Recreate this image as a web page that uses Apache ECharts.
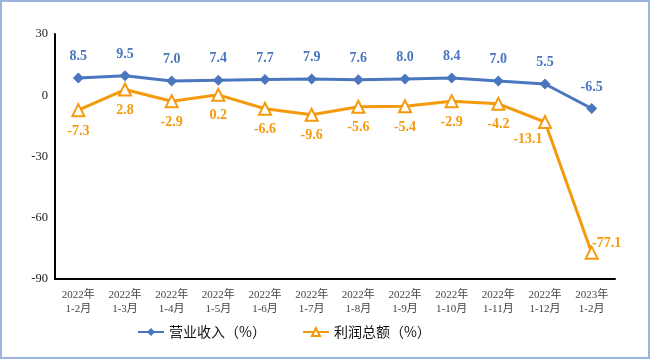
<!DOCTYPE html>
<html><head><meta charset="utf-8">
<script src="https://cdn.jsdelivr.net/npm/echarts@6/dist/echarts.min.js"></script>
<style>html,body{margin:0;padding:0;background:#fff}#c{width:650px;height:359px}</style>
</head><body><div id="c"></div>
<script>
const categories = ['2022年\n1-2月','2022年\n1-3月','2022年\n1-4月','2022年\n1-5月','2022年\n1-6月','2022年\n1-7月','2022年\n1-8月','2022年\n1-9月','2022年\n1-10月','2022年\n1-11月','2022年\n1-12月','2023年\n1-2月'];
const revenue = [8.5, 9.5, 7.0, 7.4, 7.7, 7.9, 7.6, 8.0, 8.4, 7.0, 5.5, -6.5];
const profit = [-7.3, 2.8, -2.9, 0.2, -6.6, -9.6, -5.6, -5.4, -2.9, -4.2, -13.1, -77.1];
const seriesNames = ['营业收入（%）', '利润总额（%）'];
const yTicks = { min: -90, max: 30, interval: 30 };

const blue = '#4A76BF', orange = '#F59A0C';
const labelOffsets = { 10: [-17, -4], 11: [15, -30] };
const chart = echarts.init(document.getElementById('c'));
const serif = '"Liberation Serif","Times New Roman",serif';
chart.setOption({
  backgroundColor: '#fff',
  animation: false,
  graphic: [{type:'rect', shape:{x:1,y:1,width:648,height:357}, style:{fill:'none', stroke:'#9CB4DD', lineWidth:2}, z:-1}],
  grid: { left: 55, right: 35, top: 34, bottom: 80 },
  legend: {
    bottom: 15, left: 132, itemGap: 36, itemWidth: 26, itemHeight: 10,
    textStyle: { fontFamily: '"Noto Sans CJK SC",sans-serif', fontSize: 14, color: '#111' },
    data: seriesNames
  },
  xAxis: {
    type: 'category', data: categories, boundaryGap: true,
    axisLine: { onZero: false, lineStyle: { color: '#000', width: 2 } },
    axisTick: { show: false },
    axisLabel: { fontFamily: '"Liberation Serif","Noto Sans CJK SC",serif', fontSize: 11, color: '#444', lineHeight: 14, margin: 9 }
  },
  yAxis: {
    type: 'value', min: yTicks.min, max: yTicks.max, interval: yTicks.interval,
    axisLine: { show: true, lineStyle: { color: '#000', width: 2 } },
    axisTick: { show: false },
    splitLine: { show: false },
    axisLabel: { fontFamily: serif, fontSize: 12.5, color: '#222', margin: 7 }
  },
  series: [
    {
      name: seriesNames[0], type: 'line', data: revenue,
      symbol: 'diamond', symbolSize: 11,
      lineStyle: { color: blue, width: 3 }, itemStyle: { color: blue },
      label: { show: true, position: 'top', distance: 9, formatter: p => p.value.toFixed(1),
        fontFamily: serif, fontWeight: 'bold', fontSize: 14, color: blue }
    },
    {
      name: seriesNames[1], type: 'line',
      data: profit.map((v, i) => labelOffsets[i] ? { value: v, label: { offset: labelOffsets[i] } } : v),
      symbol: 'triangle', symbolSize: 12,
      lineStyle: { color: orange, width: 3 }, itemStyle: { color: '#fff', borderColor: orange, borderWidth: 2 },
      label: { show: true, position: 'bottom', distance: 7, formatter: p => Number(p.value).toFixed(1),
        fontFamily: serif, fontWeight: 'bold', fontSize: 14, color: orange }
    }
  ]
});
</script></body></html>
